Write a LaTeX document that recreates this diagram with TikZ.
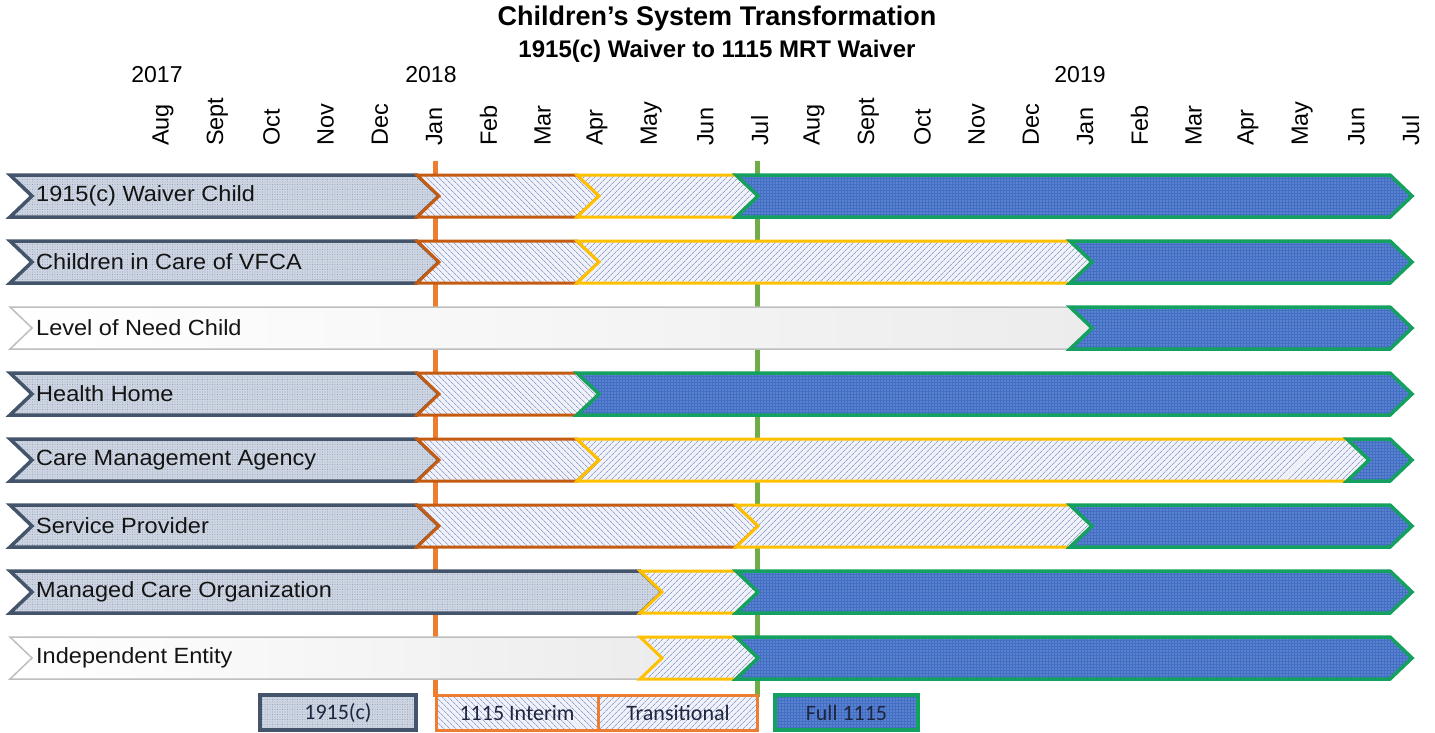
\documentclass[tikz,border=0pt]{standalone}
\usepackage{fontspec}
\usepackage{graphicx}
\setmainfont{Liberation Sans}
\newfontfamily\legfont{Carlito}
\usetikzlibrary{patterns.meta}
\definecolor{slate}{RGB}{68,84,106}
\definecolor{grayfill}{RGB}{205,213,226}
\definecolor{graydot}{RGB}{120,136,162}
\definecolor{intborder}{RGB}{197,90,17}
\definecolor{transborder}{RGB}{255,192,0}
\definecolor{hatchbg}{RGB}{240,242,249}
\definecolor{hatchc}{RGB}{150,160,205}
\definecolor{fullborder}{RGB}{20,160,95}
\definecolor{fullfill}{RGB}{66,110,196}
\definecolor{fulldot}{RGB}{175,198,240}
\definecolor{noneborder}{RGB}{190,190,190}
\definecolor{noneright}{RGB}{236,236,236}
\definecolor{orangeline}{RGB}{237,125,49}
\definecolor{greenline}{RGB}{112,173,71}
\definecolor{legtext}{RGB}{30,38,64}
\newcommand\seg[4]{\path[#4] (#1,{#3-21}) -- (#2,{#3-21}) -- ({#2+22},#3) -- (#2,{#3+21}) -- (#1,{#3+21}) -- ({#1+22},#3) -- cycle;}
\tikzset{
  seg1915/.style={preaction={fill=grayfill}, pattern={Dots[radius=0.45pt,distance=2.5pt]}, pattern color=graydot, draw=slate, line width=3.5pt},
  segint/.style={preaction={fill=hatchbg}, pattern={Lines[angle=-45,distance=4pt,line width=0.7pt]}, pattern color=hatchc, draw=intborder, line width=3pt},
  segtrans/.style={preaction={fill=hatchbg}, pattern={Lines[angle=45,distance=4pt,line width=0.7pt]}, pattern color=hatchc, draw=transborder, line width=3pt},
  segfull/.style={preaction={fill=fullfill}, pattern={Dots[radius=0.6pt,distance=3pt]}, pattern color=fulldot, draw=fullborder, line width=3.5pt},
  segnone/.style={left color=white, right color=noneright, draw=noneborder, line width=1.5pt},
  rowlabel/.style={anchor=west, inner sep=0pt, font=\fontsize{22}{26}\selectfont, text=black!92},
  monthlabel/.style={rotate=90, anchor=west, inner sep=0pt, font=\fontsize{23.5}{27}\selectfont},
  yearlabel/.style={inner sep=0pt, font=\fontsize{23}{27}\selectfont},
  legbox/.style={minimum height=35pt, inner sep=0pt, line width=3.5pt, font=\legfont\fontsize{22}{26}\selectfont, text=legtext},
  vline/.style={line width=5pt},
}
\begin{document}
\begin{tikzpicture}[x=1pt,y=-1pt]
\useasboundingbox (0,0) rectangle (1435,732);
% titles
\node[font=\bfseries\fontsize{27}{30}\selectfont, inner sep=0pt] (title) at (717,19) {Children’s System Transformation};
\node[font=\bfseries\fontsize{24}{27}\selectfont, inner sep=0pt] (subtitle) at (717,51) {1915(c) Waiver to 1115 MRT Waiver};
% years
\node[yearlabel] (y2017) at (157,75) {2017};
\node[yearlabel] (y2018) at (431,75) {2018};
\node[yearlabel] (y2019) at (1080,75) {2019};
% months
\foreach \m [count=\i from 0] in {Aug,Sept,Oct,Nov,Dec,Jan,Feb,Mar,Apr,May,Jun,Jul,Aug,Sept,Oct,Nov,Dec,Jan,Feb,Mar,Apr,May,Jun,Jul}
  \node[monthlabel] (m\i) at ({163+54.25*\i},146) {\m};
% milestone lines
\coordinate (otop) at (435,161);
\coordinate (obot) at (435,697);
\coordinate (gtop) at (757,161);
\coordinate (gbot) at (757,697);
\draw[vline, orangeline] (otop) -- (obot);
\draw[vline, greenline] (gtop) -- (gbot);
% row 1
\seg{10}{417}{196}{seg1915}
\seg{417}{577}{196}{segint}
\seg{577}{736}{196}{segtrans}
\seg{736}{1390}{196}{segfull}
% row 2
\seg{10}{417}{262}{seg1915}
\seg{417}{577}{262}{segint}
\seg{577}{1070}{262}{segtrans}
\seg{1070}{1390}{262}{segfull}
% row 3
\seg{10}{1070}{328}{segnone}
\seg{1070}{1390}{328}{segfull}
% row 4
\seg{10}{417}{394}{seg1915}
\seg{417}{577}{394}{segint}
\seg{577}{1390}{394}{segfull}
% row 5
\seg{10}{417}{460}{seg1915}
\seg{417}{577}{460}{segint}
\seg{577}{1347}{460}{segtrans}
\seg{1347}{1390}{460}{segfull}
% row 6
\seg{10}{417}{526}{seg1915}
\seg{417}{736}{526}{segint}
\seg{736}{1070}{526}{segtrans}
\seg{1070}{1390}{526}{segfull}
% row 7
\seg{10}{640}{592}{seg1915}
\seg{640}{736}{592}{segtrans}
\seg{736}{1390}{592}{segfull}
% row 8
\seg{10}{640}{658}{segnone}
\seg{640}{736}{658}{segtrans}
\seg{736}{1390}{658}{segfull}
% row labels
\node[rowlabel] (r1) at (36,196) {\scalebox{1.07}[1]{1915(c) Waiver Child}};
\node[rowlabel] (r2) at (36,262) {\scalebox{1.07}[1]{Children in Care of VFCA}};
\node[rowlabel] (r3) at (36,328) {\scalebox{1.07}[1]{Level of Need Child}};
\node[rowlabel] (r4) at (36,394) {\scalebox{1.07}[1]{Health Home}};
\node[rowlabel] (r5) at (36,460) {\scalebox{1.07}[1]{Care Management Agency}};
\node[rowlabel] (r6) at (36,526) {\scalebox{1.07}[1]{Service Provider}};
\node[rowlabel] (r7) at (36,592) {\scalebox{1.07}[1]{Managed Care Organization}};
\node[rowlabel] (r8) at (36,658) {\scalebox{1.07}[1]{Independent Entity}};
% legend
\node[legbox, seg1915, minimum width=156pt] (l1915) at (338,712.5) {1915(c)};
\node[legbox, segint, draw=orangeline, minimum width=162pt] (lint) at (517,712.5) {1115 Interim};
\node[legbox, segtrans, draw=orangeline, minimum width=159pt] (ltrans) at (678,712.5) {Transitional};
\node[legbox, segfull, minimum width=143pt] (lfull) at (846.5,712.5) {Full 1115};
\end{tikzpicture}
\end{document}
